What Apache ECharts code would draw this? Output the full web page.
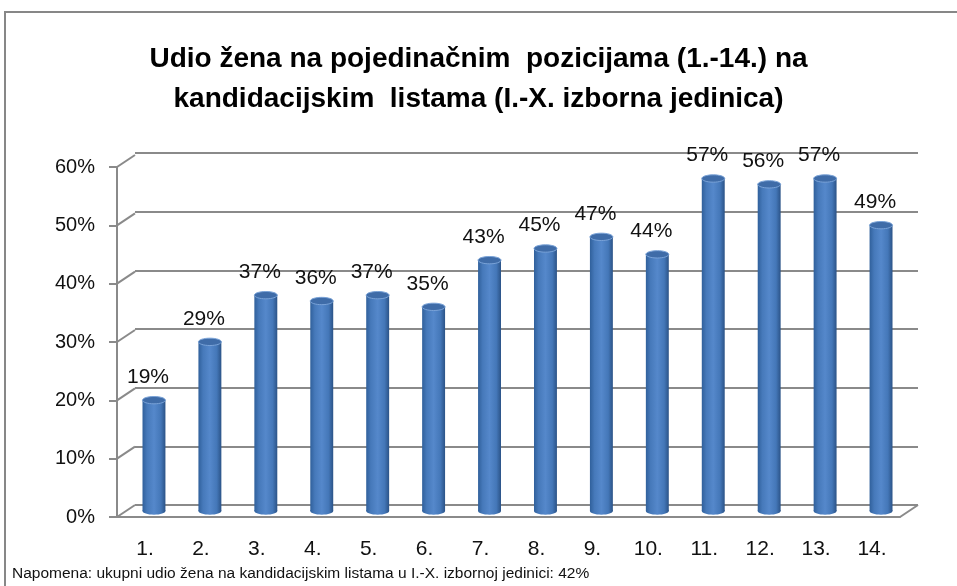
<!DOCTYPE html>
<html lang="hr">
<head>
<meta charset="UTF-8" />
<title>Udio žena na pojedinačnim pozicijama</title>
<script src="https://cdn.jsdelivr.net/npm/echarts@6/dist/echarts.min.js"></script>
<style>
  html, body { margin: 0; padding: 0; background: #fff; }
  #main { width: 957px; height: 586px; }
</style>
</head>
<body>
<div id="main"></div>
<script>
var positions = ['1.', '2.', '3.', '4.', '5.', '6.', '7.', '8.', '9.', '10.', '11.', '12.', '13.', '14.'];
var shares = [0.19, 0.29, 0.37, 0.36, 0.37, 0.35, 0.43, 0.45, 0.47, 0.44, 0.57, 0.56, 0.57, 0.49];
var yTicks = [0, 0.1, 0.2, 0.3, 0.4, 0.5, 0.6];
var titleText = 'Udio žena na pojedinačnim  pozicijama (1.-14.) na\nkandidacijskim  listama (I.-X. izborna jedinica)';
var noteText = 'Napomena: ukupni udio žena na kandidacijskim listama u I.-X. izbornoj jedinici: 42%';

// depth of the fake 3d box (front plane -> back wall)
var DX = 18, DY = -12;
var FONT = "'Liberation Sans', Arial, sans-serif";
var LINE = '#8a8a8a';

var chart = echarts.init(document.getElementById('main'));

function pct(v) { return Math.round(v * 100) + '%'; }

// diagonals joining the front axis ticks to the back wall grid lines
function renderDepthLines(params, api) {
  var cs = params.coordSys;
  var p = api.coord([0, api.value(1)]);
  var kids = [{
    type: 'line',
    shape: { x1: cs.x, y1: p[1], x2: cs.x + DX, y2: p[1] + DY },
    style: { stroke: LINE, lineWidth: 2 }
  }];
  if (api.value(1) === 0) {
    kids.push({
      type: 'line',
      shape: { x1: cs.x + cs.width, y1: p[1], x2: cs.x + cs.width + DX, y2: p[1] + DY },
      style: { stroke: LINE, lineWidth: 2 }
    });
  }
  return { type: 'group', children: kids };
}

function renderCylinder(params, api) {
  var i = api.value(0), v = api.value(1);
  var top = api.coord([i, v]);
  var base = api.coord([i, 0]);
  var w = api.size([1, 0])[0] * 0.41;
  var cx = top[0] + DX / 2;
  var ty = top[1] + DY / 2;
  var by = base[1] + DY / 2;
  var ry = w * 0.16;
  var body = new echarts.graphic.LinearGradient(0, 0, 1, 0, [
    { offset: 0, color: '#30609b' },
    { offset: 0.2, color: '#4679ba' },
    { offset: 0.5, color: '#5588cb' },
    { offset: 0.8, color: '#4477b8' },
    { offset: 1, color: '#2b5387' }
  ]);
  return {
    type: 'group',
    children: [
      { type: 'ellipse', shape: { cx: cx, cy: by, rx: w / 2, ry: ry }, style: { fill: body } },
      { type: 'rect', shape: { x: cx - w / 2, y: ty, width: w, height: by - ty }, style: { fill: body } },
      { type: 'ellipse', shape: { cx: cx, cy: ty, rx: w / 2, ry: ry },
        style: { fill: '#3f6ca8', stroke: '#7aa3d8', lineWidth: 1 } },
      { type: 'text', x: cx - 6, y: ty - 23,
        style: { text: pct(v), font: '21px ' + FONT, fill: '#111', align: 'center', verticalAlign: 'middle' } }
    ]
  };
}

var option = {
  animation: false,
  backgroundColor: '#fff',
  title: {
    text: titleText,
    left: 'center',
    top: 34,
    textStyle: { fontFamily: FONT, fontSize: 28, fontWeight: 'bold', color: '#000', lineHeight: 40 }
  },
  grid: [
    { left: 135, right: 39, top: 153, bottom: 81 },   // back wall
    { left: 117, right: 57, top: 167, bottom: 69 }    // front plane
  ],
  xAxis: [
    { gridIndex: 0, type: 'category', data: positions, show: false },
    {
      gridIndex: 1, type: 'category', data: positions,
      axisLine: { lineStyle: { color: LINE, width: 2 } },
      axisTick: { length: 8, lineStyle: { color: LINE, width: 2 } },
      axisLabel: { fontFamily: FONT, fontSize: 21, color: '#111', margin: 22 }
    }
  ],
  yAxis: [
    {
      gridIndex: 0, type: 'value', min: 0, max: 0.6, interval: 0.1,
      axisLine: { show: false }, axisTick: { show: false }, axisLabel: { show: false },
      splitLine: { lineStyle: { color: LINE, width: 2 } }
    },
    {
      gridIndex: 1, type: 'value', min: 0, max: 0.6, interval: 0.1,
      axisLine: { show: true, lineStyle: { color: LINE, width: 2 } },
      axisTick: { show: true, length: 8, lineStyle: { color: LINE, width: 2 } },
      splitLine: { show: false },
      axisLabel: { fontFamily: FONT, fontSize: 20, color: '#111', margin: 22, formatter: pct }
    }
  ],
  graphic: [
    {
      type: 'rect', z: -10, silent: true,
      shape: { x: 5, y: 12, width: 1200, height: 800 },
      style: { fill: null, stroke: '#878787', lineWidth: 2 }
    },
    {
      type: 'text', left: 12, top: 566,
      style: { text: noteText, font: '15.5px ' + FONT, fill: '#111' }
    }
  ],
  series: [
    {
      type: 'custom', xAxisIndex: 1, yAxisIndex: 1, silent: true,
      renderItem: renderDepthLines,
      data: yTicks.map(function (v) { return [0, v]; })
    },
    {
      type: 'custom', xAxisIndex: 1, yAxisIndex: 1, silent: true,
      renderItem: renderCylinder,
      data: shares.map(function (v, i) { return [i, v]; })
    }
  ]
};

chart.setOption(option);
</script>
</body>
</html>
